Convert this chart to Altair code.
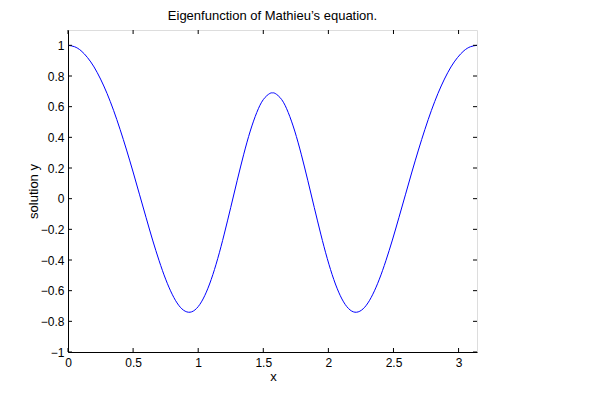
import altair as alt
import pandas as pd

# Curve samples
x_vals = [0.00, 0.05, 0.10, 0.15, 0.20, 0.25, 0.30, 0.35, 0.40, 0.45,
          0.50, 0.55, 0.60, 0.65, 0.70, 0.75, 0.80, 0.85, 0.90, 0.95,
          1.00, 1.05, 1.10, 1.15, 1.20, 1.25, 1.30, 1.35, 1.40, 1.45,
          1.50, 1.55, 1.5708,
          1.5916, 1.6416, 1.6916, 1.7416, 1.7916, 1.8416, 1.8916, 1.9416,
          1.9916, 2.0416, 2.0916, 2.1416, 2.1916, 2.2416, 2.2916, 2.3416,
          2.3916, 2.4416, 2.4916, 2.5416, 2.5916, 2.6416, 2.6916, 2.7416,
          2.7916, 2.8416, 2.8916, 2.9416, 2.9916, 3.0416, 3.0916, 3.1416]
y_vals = [1.000, 0.991, 0.965, 0.920, 0.859, 0.780, 0.686, 0.576, 0.452, 0.317,
          0.174, 0.025, -0.124, -0.270, -0.405, -0.525, -0.623, -0.695, -0.734, -0.738,
          -0.704, -0.633, -0.527, -0.391, -0.231, -0.057, 0.120, 0.290, 0.441, 0.562,
          0.646, 0.686, 0.690,
          0.686, 0.646, 0.562, 0.441, 0.290, 0.120, -0.057, -0.231,
          -0.391, -0.527, -0.633, -0.704, -0.738, -0.734, -0.695, -0.623,
          -0.525, -0.405, -0.270, -0.124, 0.025, 0.174, 0.317, 0.452,
          0.576, 0.686, 0.780, 0.859, 0.920, 0.965, 0.991, 1.000]

x_ticks = [0, 0.5, 1, 1.5, 2, 2.5, 3]
y_ticks = [-1, -0.8, -0.6, -0.4, -0.2, 0, 0.2, 0.4, 0.6, 0.8, 1]

title_text = "Eigenfunction of Mathieu’s equation."
x_title = "x"
y_title = "solution y"

W, H = 409, 322
FONT = "Liberation Sans"
TL = 4  # inward tick length

df = pd.DataFrame({"x": x_vals, "y": y_vals})
xt = pd.DataFrame({"x": x_ticks})
yt = pd.DataFrame({"y": y_ticks})

xscale = alt.Scale(domain=[0, 3.1416], nice=False, zero=False)
yscale = alt.Scale(domain=[-1, 1.1], nice=False, zero=False)

xaxis = alt.Axis(values=x_ticks, format="~g", ticks=False, grid=False,
                 domainColor="black", labelColor="black", labelFont=FONT,
                 labelFontSize=12, labelPadding=5, labelFlush=False,
                 title=x_title, titleFont=FONT, titleFontSize=13,
                 titleFontWeight="normal", titleColor="black",
                 titleX=205, titleY=28, titleBaseline="alphabetic",
                 titleAlign="center")
yaxis = alt.Axis(values=y_ticks, format="~g", ticks=False, grid=False,
                 domainColor="black", labelColor="black", labelFont=FONT,
                 labelFontSize=12, labelPadding=4, labelFlush=False,
                 title=y_title, titleFont=FONT, titleFontSize=13,
                 titleFontWeight="normal", titleColor="black",
                 titleX=-31, titleY=161, titleBaseline="alphabetic",
                 titleAlign="center", titleAngle=-90)

X = alt.X("x:Q", scale=xscale, axis=xaxis)
Y = alt.Y("y:Q", scale=yscale, axis=yaxis)

line = alt.Chart(df).mark_line(color="#0000ff", strokeWidth=1,
                               interpolate="natural", clip=True).encode(x=X, y=Y)

bottom_ticks = alt.Chart(xt).mark_rule(color="black", strokeWidth=1).encode(
    x=X, y=alt.value(H), y2=alt.value(H - TL))
top_ticks = alt.Chart(xt).mark_rule(color="black", strokeWidth=1).encode(
    x=X, y=alt.value(0), y2=alt.value(TL))
left_ticks = alt.Chart(yt).mark_rule(color="black", strokeWidth=1).encode(
    y=Y, x=alt.value(0), x2=alt.value(TL))
right_ticks = alt.Chart(yt).mark_rule(color="black", strokeWidth=1).encode(
    y=Y, x=alt.value(W), x2=alt.value(W - TL))

chart = alt.layer(line, bottom_ticks, top_ticks, left_ticks, right_ticks).properties(
    width=W, height=H,
    title=alt.Title(title_text, font=FONT, fontSize=13, fontWeight="normal",
                    color="black", anchor="middle", offset=7),
    padding={"left": 60, "top": 22, "right": 100, "bottom": 30},
    autosize=alt.AutoSizeParams(type="none"),
).configure_view(stroke="black", strokeWidth=1).configure(background="white")

chart.save("out.html", embed_options={"renderer": "svg", "actions": False})
